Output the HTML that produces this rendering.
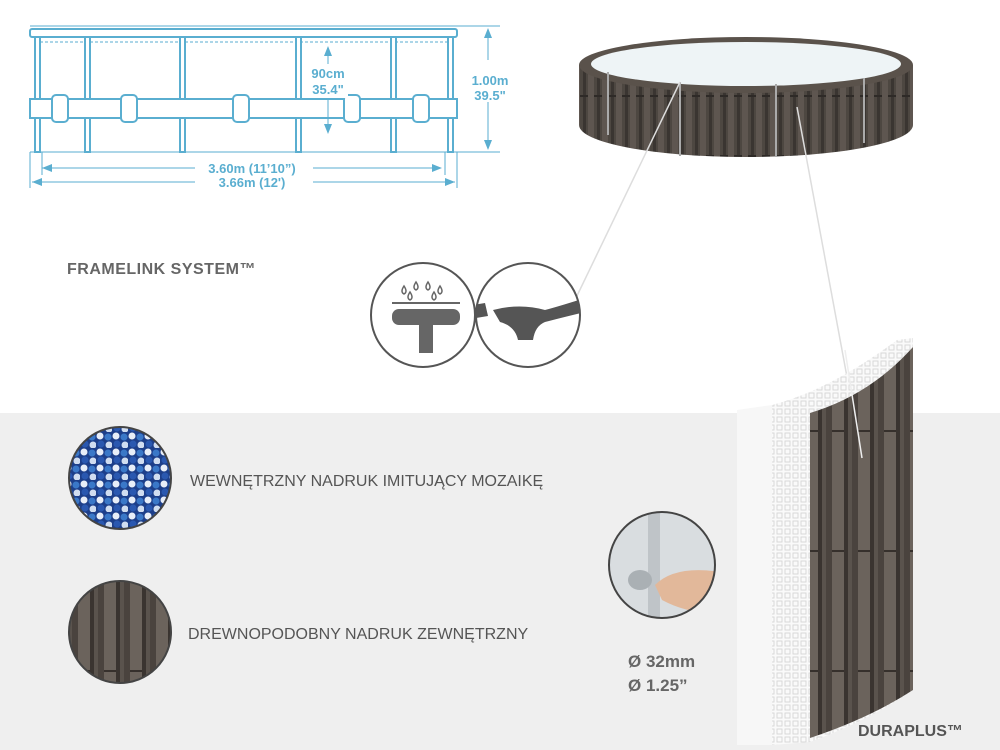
<!DOCTYPE html>
<html><head><meta charset="utf-8"><style>
html,body{margin:0;padding:0;background:#fff}
body{width:1000px;height:750px;overflow:hidden;position:relative;font-family:"Liberation Sans",sans-serif}
</style></head><body>
<svg width="1000" height="750" viewBox="0 0 1000 750" xmlns="http://www.w3.org/2000/svg" style="position:absolute;left:0;top:0">
<defs>
<pattern id="wood" width="14" height="60" patternUnits="userSpaceOnUse">
<rect width="14" height="60" fill="#4d4741"/>
<rect x="0" width="6" height="60" fill="#5e5650"/>
<rect x="9" y="0" width="3" height="60" fill="#3a3531"/>
<rect x="6" y="35" width="8" height="2" fill="#2e2a27"/>
</pattern>
<pattern id="wood2" width="26" height="120" patternUnits="userSpaceOnUse">
<rect width="26" height="120" fill="#5a534d"/>
<rect x="0" width="12" height="120" fill="#6b635c"/>
<rect x="12" width="4" height="120" fill="#3a3430"/>
<rect x="20" width="6" height="120" fill="#4a433e"/>
<rect x="0" y="70" width="12" height="2" fill="#36302c"/>
</pattern>
<pattern id="mesh" width="8" height="8" patternUnits="userSpaceOnUse">
<rect width="8" height="8" fill="#fafafa"/>
<rect x="1" y="1" width="5" height="5" fill="none" stroke="#d8d8d8" stroke-width="1"/>
</pattern>
<pattern id="mosaic" width="16" height="16" patternUnits="userSpaceOnUse">
<rect width="16" height="16" fill="#1d3f8a"/>
<circle cx="4" cy="4" r="3.5" fill="#e8eef8"/>
<circle cx="12" cy="5" r="3.5" fill="#3a78c8"/>
<circle cx="5" cy="12" r="3.5" fill="#2a58b0"/>
<circle cx="13" cy="13" r="3.5" fill="#d0ddf0"/>
</pattern>
<clipPath id="c1"><circle cx="120" cy="478" r="51"/></clipPath>
<clipPath id="c2"><circle cx="120" cy="632" r="51"/></clipPath>
<clipPath id="c3"><circle cx="662" cy="565" r="53"/></clipPath>
<clipPath id="c4"><circle cx="528" cy="315" r="52"/></clipPath>
</defs>
<rect x="0" y="413" width="1000" height="337" fill="#efefef"/>

<!-- dimension diagram -->
<g stroke="#5aaed0" fill="none" stroke-width="2">
<rect x="30" y="29" width="427" height="8" rx="2" fill="#fff"/>
<line x1="40" y1="42" x2="455" y2="42" stroke-width="1" stroke-dasharray="3 2"/>
<g fill="#fff">
<rect x="35" y="37" width="5" height="115"/><rect x="85" y="37" width="5" height="115"/>
<rect x="180" y="37" width="5" height="115"/><rect x="296" y="37" width="5" height="115"/>
<rect x="391" y="37" width="5" height="115"/><rect x="448" y="37" width="5" height="115"/>
<rect x="30" y="99" width="427" height="19"/>
<rect x="52" y="95" width="16" height="27" rx="4"/><rect x="121" y="95" width="16" height="27" rx="4"/>
<rect x="233" y="95" width="16" height="27" rx="4"/><rect x="344" y="95" width="16" height="27" rx="4"/>
<rect x="413" y="95" width="16" height="27" rx="4"/>
</g>
<line x1="30" y1="152" x2="500" y2="152" stroke-width="1"/>
<line x1="30" y1="26" x2="500" y2="26" stroke-width="1"/>
<line x1="488" y1="30" x2="488" y2="148" stroke-width="1"/>
<line x1="328" y1="48" x2="328" y2="132" stroke-width="1"/>
<line x1="42" y1="168" x2="440" y2="168" stroke-width="1"/>
<line x1="32" y1="182" x2="455" y2="182" stroke-width="1"/>
<line x1="42" y1="152" x2="42" y2="175" stroke-width="1"/>
<line x1="445" y1="152" x2="445" y2="175" stroke-width="1"/>
<line x1="30" y1="152" x2="30" y2="188" stroke-width="1"/>
<line x1="457" y1="152" x2="457" y2="188" stroke-width="1"/>
</g>
<g fill="#5aaed0">
<polygon points="488,28 484,38 492,38"/><polygon points="488,150 484,140 492,140"/>
<polygon points="328,46 324,56 332,56"/><polygon points="328,134 324,124 332,124"/>
<polygon points="42,168 52,164 52,172"/><polygon points="442,168 432,164 432,172"/>
<polygon points="32,182 42,178 42,186"/><polygon points="455,182 445,178 445,186"/>
</g>
<g fill="#5aaed0" font-weight="bold" font-size="13" text-anchor="middle">
<rect x="195" y="159" width="118" height="30" fill="#fff"/>
<text x="252" y="173">3.60m (11’10”)</text>
<text x="252" y="187">3.66m (12')</text>
<rect x="308" y="64" width="40" height="34" fill="#fff"/>
<text x="328" y="78">90cm</text>
<text x="328" y="94">35.4"</text>
<rect x="474" y="60" width="32" height="42" fill="#fff"/>
<text x="490" y="85">1.00m</text>
<text x="490" y="100">39.5"</text>
</g>
<text x="67" y="274" font-size="16" font-weight="bold" fill="#666" letter-spacing="0.5">FRAMELINK SYSTEM™</text>

<!-- pool -->
<ellipse cx="746" cy="125" rx="167" ry="32" fill="url(#wood)"/>
<rect x="579" y="65" width="334" height="60" fill="url(#wood)"/>
<ellipse cx="746" cy="65" rx="167" ry="28" fill="#5a524b"/>
<ellipse cx="746" cy="64" rx="155" ry="22" fill="#eef4f6"/>
<g stroke="#aaa" stroke-width="2">
<line x1="680" y1="82" x2="680" y2="156"/><line x1="776" y1="84" x2="776" y2="157"/>
<line x1="608" y1="72" x2="608" y2="135"/><line x1="864" y1="78" x2="864" y2="143"/>
</g>

<!-- connector lines -->
<line x1="680" y1="82" x2="575" y2="300" stroke="#ddd" stroke-width="1.5"/>
<line x1="797" y1="107" x2="862" y2="458" stroke="#ddd" stroke-width="1.5"/>

<!-- framelink circles -->
<circle cx="423" cy="315" r="52" fill="#fff" stroke="#555" stroke-width="2"/>
<g fill="none" stroke="#666" stroke-width="1.5">
<path d="M404 286 q-4 6 0 8 q4 -2 0 -8z"/><path d="M416 282 q-4 6 0 8 q4 -2 0 -8z"/>
<path d="M428 282 q-4 6 0 8 q4 -2 0 -8z"/><path d="M440 286 q-4 6 0 8 q4 -2 0 -8z"/>
<path d="M410 292 q-4 6 0 8 q4 -2 0 -8z"/><path d="M434 292 q-4 6 0 8 q4 -2 0 -8z"/>
</g>
<line x1="392" y1="303" x2="460" y2="303" stroke="#666" stroke-width="2"/>
<rect x="392" y="309" width="68" height="16" rx="7" fill="#666"/>
<rect x="419" y="325" width="14" height="28" fill="#666"/>
<circle cx="528" cy="315" r="52" fill="#fff" stroke="#555" stroke-width="2"/>
<g clip-path="url(#c4)">
<path d="M473 305 L485 303 L488 316 L476 318 Z" fill="#555"/>
<path d="M493 310 Q520 303 545 310 Q560 306 585 298 L585 312 Q560 318 545 322 Q535 326 533 340 L518 340 Q515 326 500 322 Z" fill="#555"/>
</g>

<!-- mosaic / wood circles -->
<g clip-path="url(#c1)"><rect x="60" y="420" width="120" height="120" fill="url(#mosaic)"/></g>
<circle cx="120" cy="478" r="51" fill="none" stroke="#444" stroke-width="2"/>
<g clip-path="url(#c2)"><rect x="60" y="575" width="120" height="120" fill="url(#wood2)"/></g>
<circle cx="120" cy="632" r="51" fill="none" stroke="#444" stroke-width="2"/>
<text x="190" y="486" font-size="16" fill="#555">WEWNĘTRZNY NADRUK IMITUJĄCY MOZAIKĘ</text>
<text x="188" y="639" font-size="16" fill="#555">DREWNOPODOBNY NADRUK ZEWNĘTRZNY</text>

<!-- hand circle -->
<g clip-path="url(#c3)"><rect x="605" y="510" width="115" height="115" fill="#d9dde0"/>
<rect x="648" y="505" width="12" height="120" fill="#bfc4c8"/>
<path d="M655 585 Q675 565 720 572 L720 612 Q690 615 662 600 Z" fill="#e2b89a"/>
<ellipse cx="640" cy="580" rx="12" ry="10" fill="#aab0b4"/></g>
<circle cx="662" cy="565" r="53" fill="none" stroke="#444" stroke-width="2"/>
<text x="628" y="667" font-size="17" font-weight="bold" fill="#666">Ø 32mm</text>
<text x="628" y="691" font-size="17" font-weight="bold" fill="#666">Ø 1.25”</text>

<!-- duraplus panel -->
<path d="M737 410 L772 405 L772 745 L737 745 Z" fill="#f7f7f7"/>
<path d="M772 405 Q830 390 897 340 L913 338 L913 690 Q870 720 810 742 L772 745 Z" fill="url(#mesh)"/>
<path d="M810 413 Q870 395 913 347 L913 690 Q870 718 810 738 Z" fill="url(#wood2)"/>
<line x1="845" y1="350" x2="862" y2="458" stroke="#eee" stroke-width="1.5"/>
<text x="858" y="736" font-size="16" font-weight="bold" fill="#555">DURAPLUS™</text>
</svg>
</body></html>
